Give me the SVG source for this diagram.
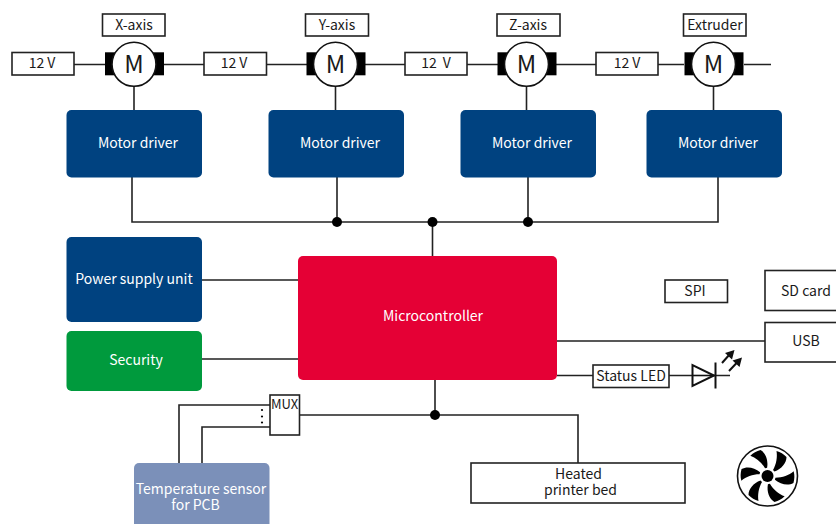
<svg xmlns="http://www.w3.org/2000/svg" width="836" height="524" viewBox="0 0 836 524">
<style>
text{font-family:"Noto Sans CJK JP","Noto Sans","Liberation Sans",sans-serif;font-size:14px;text-anchor:middle;fill:#1a1a1a}
.w{fill:#fff}
.b{fill:#fff;stroke:#222;stroke-width:1.6}
.l{fill:none;stroke:#222;stroke-width:1.6}
.m{font-size:24px}
.d{fill:#004280}
</style>
<defs>
<g id="motor">
<rect x="-29" y="-12" width="59" height="23" fill="#000"/>
<circle r="22" fill="#fff" stroke="#111" stroke-width="1.6"/>
<text y="9" class="m">M</text>
</g>
<path id="blade" d="M5.500 -6C9 -12 10 -19 9 -25C13 -24 16 -22 19 -19C19 -13 14 -7 7 -4.500Z" fill="#000"/>
</defs>
<g id="connectors">
<path class="l" d="M74 64.500H105M164 64.500H204M267 64.500H307M364 64.500H405M467 64.500H498M555 64.500H596M658 64.500H684M744 64.500H771"/>
<path class="l" d="M134 86V110M335.500 86V110M526.500 86V110M713.500 86V110"/>
<path class="l" d="M132 177V222H718V177M337 177V222M432.500 222V256M528 177V222"/>
<path class="l" d="M202 280H298M202 359H298M557 341H765M557 375.500H593M669 375.500H692M716 375.500H730"/>
<path class="l" d="M435 380V415M299 415H578V463M179 463V405H270M202 463V427H270"/>
<circle cx="337" cy="222" r="5" fill="#000"/>
<circle cx="432.500" cy="222" r="5" fill="#000"/>
<circle cx="528" cy="222" r="5" fill="#000"/>
<circle cx="435" cy="415" r="5" fill="#000"/>
</g>
<g id="vx"><rect class="b" x="12" y="52.500" width="62" height="22.500"/><text x="42" y="68">12 V</text></g>
<g id="vy"><rect class="b" x="204" y="52.500" width="62.500" height="22.500"/><text x="234" y="68">12 V</text></g>
<g id="vz"><rect class="b" x="405" y="52.500" width="62" height="22.500"/><text x="436" y="68" style="word-spacing:3px">12 V</text></g>
<g id="ve"><rect class="b" x="596" y="52.500" width="62" height="22.500"/><text x="627" y="68">12 V</text></g>
<g id="motor-x"><use href="#motor" x="134" y="64.300"/><rect class="b" x="102.500" y="14" width="62.500" height="22"/><text x="134" y="30">X-axis</text></g>
<g id="motor-y"><use href="#motor" x="335.500" y="64.300"/><rect class="b" x="305.500" y="14" width="63" height="22"/><text x="337" y="30">Y-axis</text></g>
<g id="motor-z"><use href="#motor" x="526.500" y="64.300"/><rect class="b" x="497" y="14" width="63" height="22"/><text x="528" y="30">Z-axis</text></g>
<g id="motor-e"><use href="#motor" x="713.500" y="64.300"/><rect class="b" x="683.500" y="14" width="62.500" height="22"/><text x="715" y="30">Extruder</text></g>
<g id="driver-x"><rect class="d" x="66.500" y="110" width="135.500" height="67.500" rx="5"/><text class="w" x="138" y="148">Motor driver</text></g>
<g id="driver-y"><rect class="d" x="268.500" y="110" width="135.500" height="67.500" rx="5"/><text class="w" x="340" y="148">Motor driver</text></g>
<g id="driver-z"><rect class="d" x="460.500" y="110" width="135.500" height="67.500" rx="5"/><text class="w" x="532" y="148">Motor driver</text></g>
<g id="driver-e"><rect class="d" x="646.500" y="110" width="135.500" height="67.500" rx="5"/><text class="w" x="718" y="148">Motor driver</text></g>
<g id="psu"><rect class="d" x="66.500" y="237" width="135.500" height="85" rx="5"/><text class="w" x="134" y="284">Power supply unit</text></g>
<g id="security"><rect x="66.500" y="331" width="135.500" height="60" rx="5" fill="#009a3d"/><text class="w" x="136" y="365">Security</text></g>
<g id="mcu"><rect x="298" y="256" width="259" height="124" rx="5" fill="#e50035"/><text class="w" x="433" y="321">Microcontroller</text></g>
<g id="spi"><rect class="b" x="665" y="280" width="62.500" height="22.500"/><text x="695" y="296">SPI</text></g>
<g id="sd"><rect class="b" x="765" y="270.500" width="80" height="40"/><text x="806" y="296">SD card</text></g>
<g id="usb"><rect class="b" x="765" y="322.500" width="80" height="39.500"/><text x="806" y="346">USB</text></g>
<g id="status"><rect class="b" x="593" y="365" width="76" height="22.500"/><text x="631" y="381">Status LED</text></g>
<g id="led">
<path d="M692.500 365V386L714 375.500Z" fill="#fff" stroke="#111" stroke-width="2"/>
<path d="M692 375.500H716" stroke="#111" stroke-width="1.600"/>
<path d="M715.500 362.500V388.500" stroke="#111" stroke-width="2"/>
<path d="M722 363L730 354M729 371L738 361.500" stroke="#111" stroke-width="2"/>
<path d="M734.500 350L732 359.500L725 353ZM742 357.500L739.500 367L732.500 360.500Z" fill="#111"/>
</g>
<g id="mux"><rect class="b" x="270" y="395" width="29.500" height="40"/><text x="284.500" y="408.500" style="font-size:13px">MUX</text>
<circle cx="262" cy="410" r="1.100" fill="#000"/><circle cx="262" cy="416.500" r="1.100" fill="#000"/><circle cx="262" cy="422.500" r="1.100" fill="#000"/></g>
<g id="temp"><rect x="134" y="463" width="135.500" height="70" rx="5" fill="#7b90b9"/><text class="w" x="201" y="494">Temperature sensor<tspan x="195.500" y="510">for PCB</tspan></text></g>
<g id="bed"><rect class="b" x="471" y="463" width="214" height="40"/><text x="578.500" y="479">Heated<tspan x="580.500" y="495">printer bed</tspan></text></g>
<g id="fan" transform="translate(767.500 476)">
<circle r="30" fill="#fff" stroke="#111" stroke-width="1.600"/>
<circle r="6" fill="#000"/>
<use href="#blade"/><use href="#blade" transform="rotate(60)"/><use href="#blade" transform="rotate(120)"/><use href="#blade" transform="rotate(180)"/><use href="#blade" transform="rotate(240)"/><use href="#blade" transform="rotate(300)"/>
</g>
</svg>
